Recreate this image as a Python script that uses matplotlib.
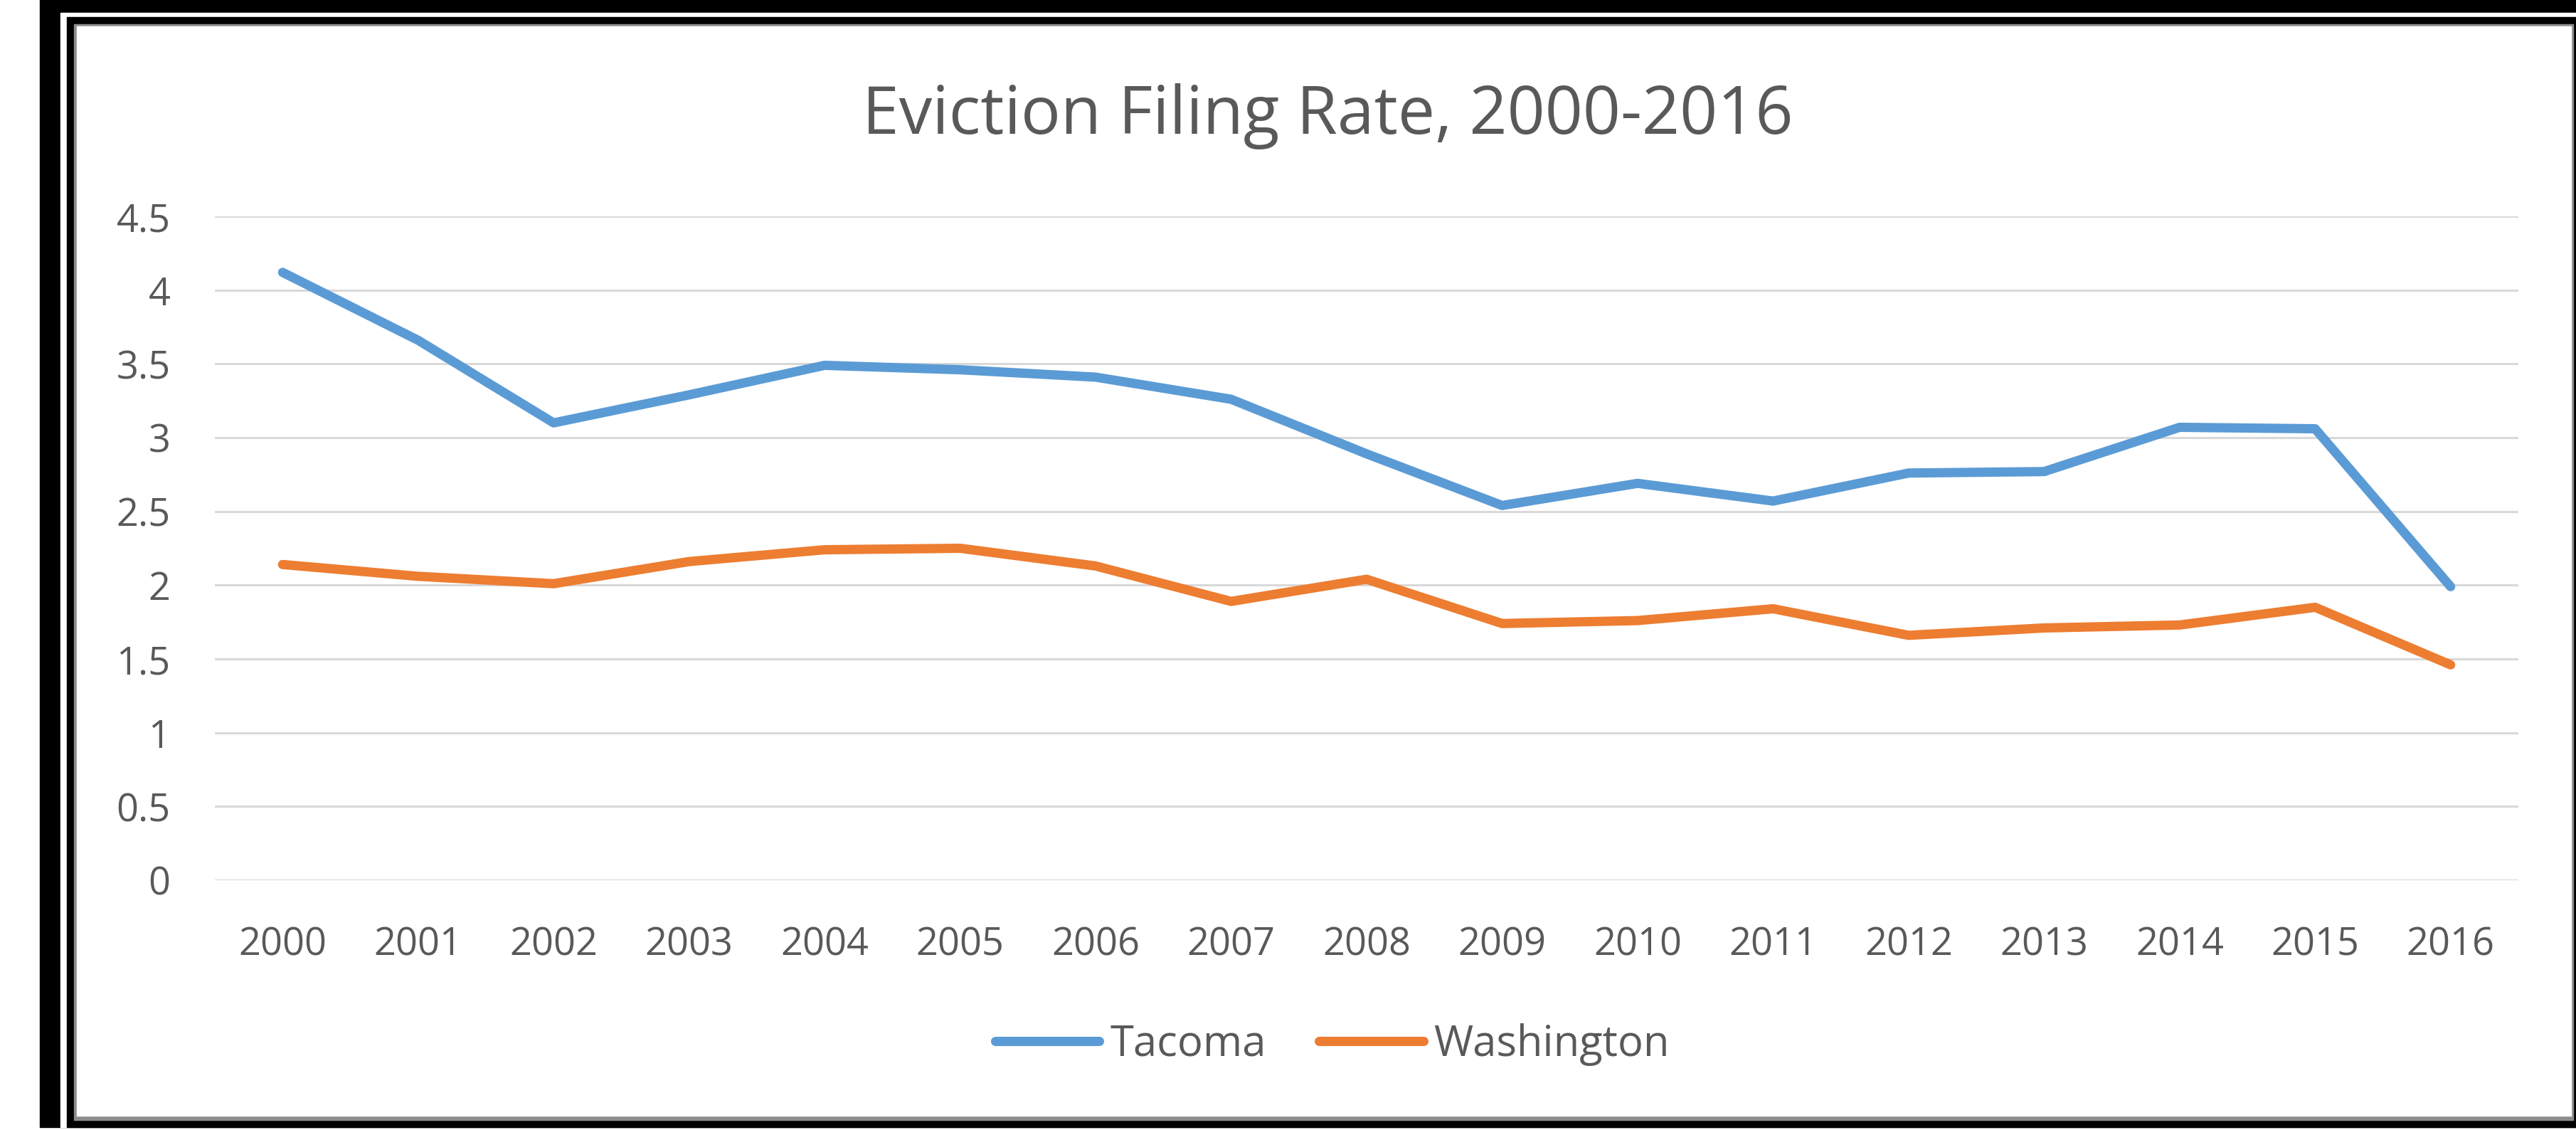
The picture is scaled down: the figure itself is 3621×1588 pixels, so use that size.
import numpy as np
import matplotlib
matplotlib.use('Agg')
from matplotlib import pyplot as plt
from matplotlib.patches import Rectangle

years = ['2000', '2001', '2002', '2003', '2004', '2005', '2006', '2007', '2008',
         '2009', '2010', '2011', '2012', '2013', '2014', '2015', '2016']
tacoma = [4.12, 3.66, 3.10, 3.29, 3.49, 3.46, 3.41, 3.26, 2.89,
          2.54, 2.69, 2.57, 2.76, 2.77, 3.07, 3.06, 1.99]
washington = [2.14, 2.06, 2.01, 2.16, 2.24, 2.25, 2.13, 1.89, 2.04,
              1.74, 1.76, 1.84, 1.66, 1.71, 1.73, 1.85, 1.46]
yticks = [0, 0.5, 1, 1.5, 2, 2.5, 3, 3.5, 4, 4.5]
ytick_labels = ['0', '0.5', '1', '1.5', '2', '2.5', '3', '3.5', '4', '4.5']

W, H = 3621, 1588
plt.rcParams['font.family'] = ['Open Sans', 'DejaVu Sans']
text_col = '#595959'

fig = plt.figure(figsize=(W / 100, H / 100), dpi=100)

# frame around the chart (screenshot border)
bg = fig.add_axes([0, 0, 1, 1])
bg.set_xlim(0, W)
bg.set_ylim(H, 0)
bg.axis('off')
bg.add_patch(Rectangle((56, 0), W - 56, 1584, color='black'))
bg.add_patch(Rectangle((85, 18), W - 85, 1566, color='white'))
bg.add_patch(Rectangle((94, 24), W - 94, 1560, color='black'))
bg.add_patch(Rectangle((104, 34), 3513, 1540, color='#8c8c8c'))
bg.add_patch(Rectangle((108, 37), 3506, 1531, color='white'))

x = np.arange(len(years))
ax = fig.add_axes([302 / W, 1 - 1237 / H, (3540 - 302) / W, (1237 - 304) / H])
ax.set_facecolor('none')
ax.plot(x, tacoma, color='#5B9BD5', lw=9.4, solid_joinstyle='round',
        solid_capstyle='round', label='Tacoma', zorder=3)
ax.plot(x, washington, color='#ED7D31', lw=9.4, solid_joinstyle='round',
        solid_capstyle='round', label='Washington', zorder=3)

ax.set_xlim(-0.5, len(years) - 0.5)
ax.set_ylim(0, 4.5)
ax.set_yticks(yticks)
ax.set_yticklabels(ytick_labels)
ax.set_xticks(x)
ax.set_xticklabels(years)
ax.yaxis.grid(True, color='#D9D9D9', lw=2.2)
ax.set_axisbelow(True)
for s in ax.spines.values():
    s.set_visible(False)
ax.tick_params(axis='both', length=0, labelsize=39, colors=text_col)
ax.tick_params(axis='y', pad=45)
ax.tick_params(axis='x', pad=46)

fig.text(1866 / W, 1 - 188 / H, 'Eviction Filing Rate, 2000-2016',
         ha='center', va='baseline', fontsize=67, color=text_col)

leg = fig.legend(loc='center', bbox_to_anchor=(1873 / W, 1 - 1468 / H),
                 ncol=2, frameon=False, fontsize=43, handlelength=2.45,
                 handletextpad=0.25, columnspacing=1.25)
for t in leg.get_texts():
    t.set_color(text_col)

fig.savefig('out.png', dpi=100)
